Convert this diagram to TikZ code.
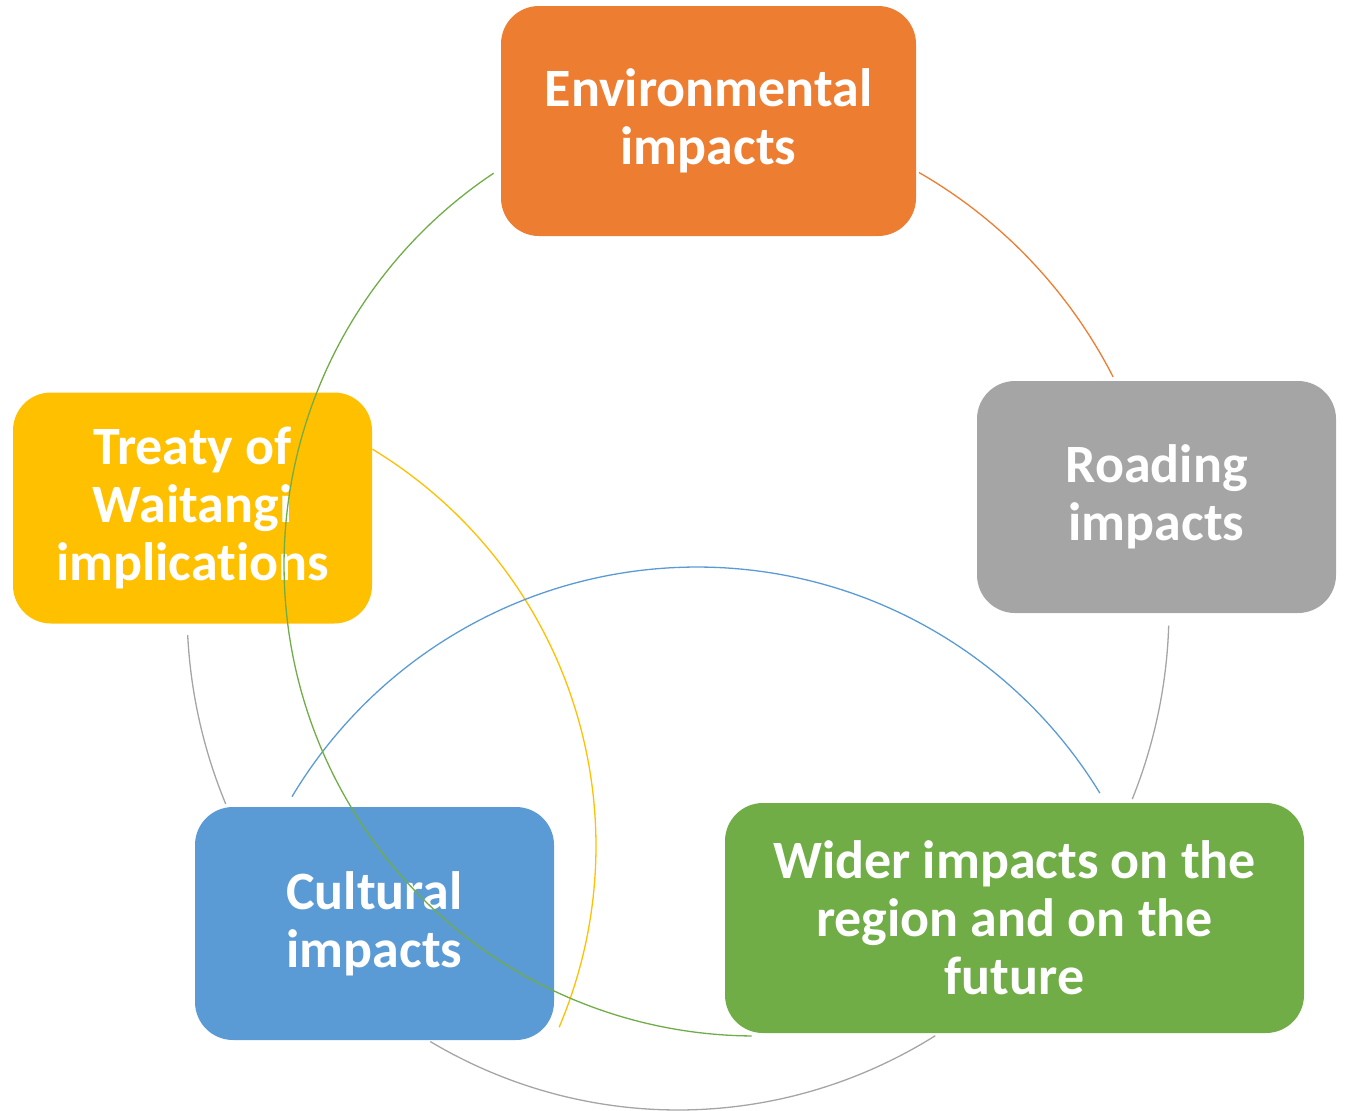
\documentclass[tikz,border=0pt]{standalone}
\usepackage{fontspec}
\setmainfont{Carlito}[Ligatures={NoCommon}]
\definecolor{cOrange}{HTML}{ED7D31}
\definecolor{cGray}{HTML}{A5A5A5}
\definecolor{cGreen}{HTML}{70AD47}
\definecolor{cBlue}{HTML}{5B9BD5}
\definecolor{cYellow}{HTML}{FFC000}
\begin{document}
\begin{tikzpicture}[x=1pt,y=-1pt,
  box/.style={rounded corners=38pt, inner sep=0pt, text=white,
    font=\fontsize{54}{58}\selectfont\bfseries, align=center},
  arcline/.style={line width=1.3pt}]
\useasboundingbox (0,0) rectangle (1345,1111);

% arcs of the outer cycle
\draw[cOrange, arcline] plot[domain=-60.6:-27.6, samples=50] ({678+491*cos(\x)},{609+501*sin(\x)});
\draw[cGray, arcline] plot[domain=1.9:22.3, samples=40] ({678+491*cos(\x)},{609+501*sin(\x)});
\draw[cGray, arcline] plot[domain=58.4:120.3, samples=80] ({678+491*cos(\x)},{609+501*sin(\x)});
\draw[cGray, arcline] plot[domain=157.1:177, samples=40] ({678+491*cos(\x)},{609+501*sin(\x)});

% inner arcs
\draw[cYellow, arcline] plot[domain=-58.8:23.0, samples=90] ({132+464*cos(\x)},{846+464*sin(\x)});
\draw[cBlue, arcline] plot[domain=-149.1:-31.4, samples=120] ({697+472*cos(\x)},{1039+472*sin(\x)});

% boxes
\node[box, fill=cOrange, minimum width=415pt, minimum height=230pt] (env) at (708.5,121) {Environmental\\impacts};
\node[box, fill=cGray, minimum width=359pt, minimum height=232pt] (road) at (1156.5,497) {Roading\\impacts};
\node[box, fill=cGreen, minimum width=579pt, minimum height=230pt] (wider) at (1014.5,918) {Wider impacts on the\\region and on the\\future};
\node[box, fill=cBlue, minimum width=359pt, minimum height=233pt] (cult) at (374.5,923.5) {Cultural\\impacts};
\node[box, fill=cYellow, minimum width=359pt, minimum height=231pt] (treaty) at (192.5,508) {Treaty of\\Waitangi\\implications};

% green arc drawn over the boxes
\draw[cGreen, arcline] plot[domain=90.4:236.3, samples=140] ({755+471*cos(\x)},{565+471*sin(\x)});
\end{tikzpicture}
\end{document}
